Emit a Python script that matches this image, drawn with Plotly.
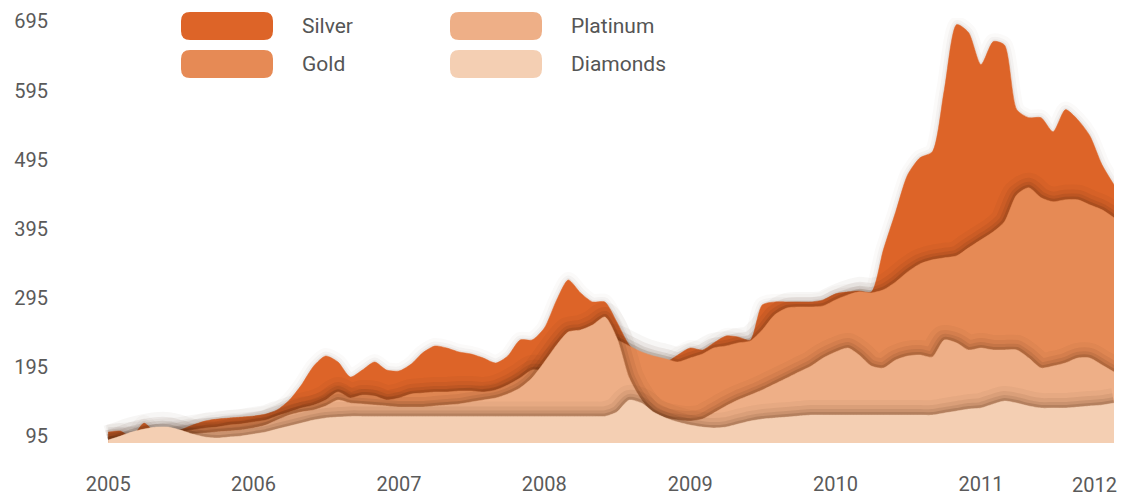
import pandas as pd
import plotly.graph_objects as go

# monthly observations, Jan 2005 .. Dec 2011
months = pd.date_range("2005-01-01", "2011-12-01", freq="MS")

silver = [100.8, 102.2, 93.6, 113.8, 99.3, 97.9, 103.7, 110.9, 116.7, 119.6, 121.1, 122.5,
          124.0, 126.9, 132.7, 147.2, 168.9, 196.4, 210.9, 202.2, 180.5, 190.6, 202.2, 190.6,
          189.2, 199.3, 215.3, 225.4, 222.5, 216.7, 213.8, 208.0, 200.8, 210.9, 234.1, 234.1,
          251.5, 292.1, 321.0, 302.2, 289.2, 289.2, 260.2, 226.9, 210.9, 205.1, 202.2, 212.4,
          222.5, 219.6, 229.8, 239.9, 238.5, 234.1, 284.8, 289.2, 289.2, 289.2, 289.2, 292.1,
          300.8, 303.7, 305.1, 303.7, 364.5, 419.6, 473.2, 497.8, 506.5, 596.0, 690.5, 679.0,
          632.6, 666.0, 661.0, 567.4, 555.8, 555.8, 535.5, 567.4, 552.9, 530.0, 487.7, 458.7]

gold = [89.2, 92.1, 93.6, 95.0, 97.9, 99.3, 100.8, 103.7, 106.6, 108.0, 110.9, 112.4,
        115.3, 118.2, 124.0, 129.8, 135.6, 139.9, 147.2, 158.8, 150.1, 154.4, 153.0, 147.2,
        150.1, 155.9, 157.3, 158.8, 158.8, 160.2, 160.2, 158.8, 161.7, 168.9, 179.0, 190.6,
        190.6, 205.1, 219.6, 226.9, 234.1, 237.0, 234.1, 225.4, 216.7, 210.9, 206.6, 202.2,
        208.0, 213.8, 222.5, 225.4, 229.8, 232.7, 248.6, 270.3, 280.4, 281.9, 281.9, 283.4,
        292.1, 299.3, 303.7, 302.2, 306.6, 318.1, 332.6, 344.2, 350.0, 352.9, 355.8, 367.4,
        379.0, 390.6, 405.1, 444.2, 454.4, 439.9, 434.1, 437.0, 437.0, 429.7, 422.5, 410.9]

platinum = [86.3, 86.3, 87.8, 89.2, 90.7, 93.6, 96.4, 97.9, 99.3, 100.8, 102.2, 103.7,
            106.6, 110.9, 118.2, 125.4, 129.8, 132.7, 138.5, 147.2, 142.8, 141.4, 139.9, 138.5,
            137.0, 137.0, 137.0, 138.5, 139.9, 141.4, 144.3, 147.2, 150.1, 155.9, 164.6, 179.0,
            202.2, 226.9, 245.7, 248.6, 255.8, 267.4, 237.0, 179.0, 147.2, 128.3, 121.1, 118.2,
            116.7, 119.6, 128.3, 138.5, 147.2, 154.4, 161.7, 170.3, 179.0, 187.7, 196.4, 208.0,
            216.7, 222.5, 212.4, 196.4, 193.5, 205.1, 210.9, 212.4, 209.5, 234.1, 229.8, 219.6,
            222.5, 219.6, 219.6, 219.6, 208.0, 193.5, 196.4, 200.8, 208.0, 208.0, 197.9, 187.7]

diamonds = [89.2, 95.0, 100.8, 105.1, 108.0, 108.0, 103.7, 97.9, 93.6, 92.1, 93.6, 95.0,
            97.9, 100.8, 105.1, 109.5, 113.8, 118.2, 121.1, 122.5, 123.5, 123.5, 123.5, 123.5,
            123.5, 123.5, 123.5, 123.5, 123.5, 123.5, 123.5, 123.5, 123.5, 123.5, 123.5, 123.5,
            123.5, 123.5, 123.5, 123.5, 123.5, 123.5, 129.8, 147.2, 142.8, 129.8, 121.1, 115.3,
            110.9, 108.0, 106.6, 108.0, 112.4, 116.7, 119.6, 121.1, 122.5, 124.0, 125.4, 125.4,
            125.4, 125.4, 125.4, 125.4, 125.4, 125.4, 125.4, 125.4, 125.4, 128.3, 131.2, 134.1,
            135.6, 141.4, 145.7, 142.8, 138.5, 135.6, 135.6, 135.6, 137.0, 138.5, 139.9, 142.8]

y_ticks = [95, 195, 295, 395, 495, 595, 695]
x_years = [2005, 2006, 2007, 2008, 2009, 2010, 2011]

SERIES = [("Silver", silver, "#DD6428"),
          ("Gold", gold, "#E68A55"),
          ("Platinum", platinum, "#EEAF87"),
          ("Diamonds", diamonds, "#F4CFB3")]

# (line width, alpha) passes that build a soft shadow above each layer's edge
SHADOW_BACK = [(16, 0.025), (9, 0.035), (4, 0.05)]
SHADOW = [(30, 0.045), (20, 0.07), (12, 0.1), (6, 0.16)]
TICK_FONT = dict(family="Roboto, sans-serif", size=20, color="#5a5a5a")
SPLINE = dict(shape="spline", smoothing=0.7)

fig = go.Figure()
for i, (name, vals, color) in enumerate(SERIES):
    for w, a in (SHADOW_BACK if i == 0 else SHADOW):
        fig.add_trace(go.Scatter(x=months, y=vals, mode="lines", hoverinfo="skip", showlegend=False,
                                 line=dict(color=f"rgba(70,35,15,{a})", width=w, **SPLINE)))
    fig.add_trace(go.Scatter(x=months, y=vals, mode="lines", name=name, showlegend=False,
                             fill="tozeroy", fillcolor=color,
                             line=dict(color=color, width=0.5, **SPLINE)))


def rounded(x0, y0, x1, y1, r=9):
    # pixel path, y up; (x0,y0) bottom-left, (x1,y1) top-right
    return (f"M{x0 + r},{y1} L{x1 - r},{y1} Q{x1},{y1} {x1},{y1 - r} L{x1},{y0 + r} "
            f"Q{x1},{y0} {x1 - r},{y0} L{x0 + r},{y0} Q{x0},{y0} {x0},{y0 + r} "
            f"L{x0},{y1 - r} Q{x0},{y1} {x0 + r},{y1} Z")


# custom legend: rounded swatches in two columns
legend_pos = [(84, 6), (84, -32), (353, 6), (353, -32)]
for (name, _, color), (lx, ly) in zip(SERIES, legend_pos):
    fig.add_shape(type="path", xref="paper", yref="paper", xsizemode="pixel", ysizemode="pixel",
                  xanchor=0, yanchor=1, path=rounded(lx, ly - 28, lx + 92, ly),
                  fillcolor=color, line=dict(width=0), layer="above")
    fig.add_annotation(xref="paper", yref="paper", x=0, y=1, xanchor="left", yanchor="middle",
                       xshift=lx + 119, yshift=ly - 14, text=name, showarrow=False,
                       font=dict(family="Roboto, sans-serif", size=21, color="#555555"))

# last year label sits flush with the right edge
fig.add_annotation(xref="paper", yref="paper", x=1, y=0, xanchor="right", yanchor="top",
                   xshift=5, yshift=-28, text="2012", showarrow=False, font=TICK_FONT)

# the page body adds an 8px offset, so the figure is 8px smaller than the window
fig.update_layout(
    width=1118, height=488, plot_bgcolor="white", paper_bgcolor="white",
    margin=dict(l=89, r=12, t=10, b=53),
    xaxis=dict(range=["2004-12-04", "2011-12-01"], showgrid=False, zeroline=False, showline=False,
               tickvals=[f"{y}-01-01" for y in x_years], ticktext=[str(y) for y in x_years],
               ticks="", tickfont=TICK_FONT, ticklabelstandoff=27, automargin=False),
    yaxis=dict(range=[85, 700], showgrid=False, zeroline=False, showline=False,
               tickvals=y_ticks, ticks="", tickfont=TICK_FONT, ticklabelstandoff=48,
               automargin=False),
)

fig.write_html("out.html")
